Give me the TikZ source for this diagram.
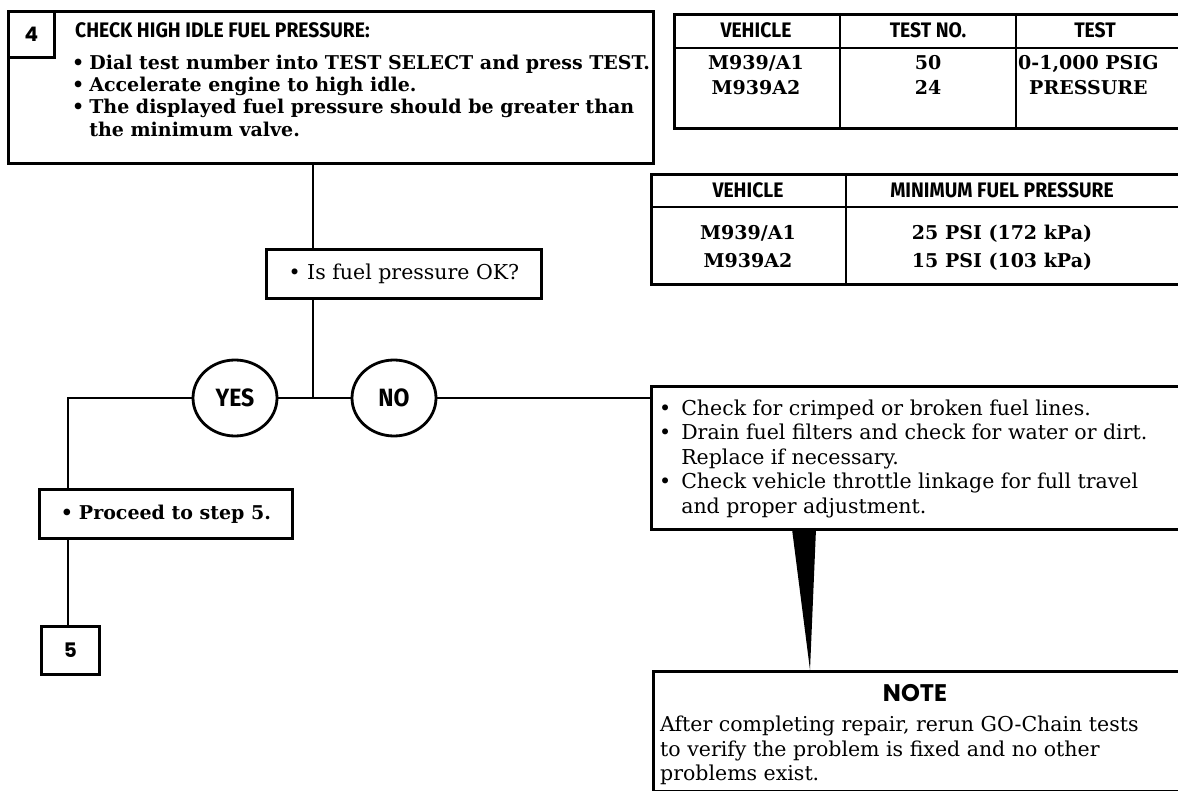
\documentclass[tikz,border=0pt]{standalone}
\usepackage{fontspec}
\setmainfont{DejaVu Serif}
\newfontfamily\hdrfont[FakeStretch=0.92]{Fira Sans}
\newfontfamily\notefont{Poppins}
\usetikzlibrary{shapes.geometric}

\tikzset{
  box/.style={draw, line width=2.8pt, inner sep=0pt, anchor=north west},
  rule/.style={line width=2.8pt},
  conn/.style={line width=2.6pt},
  hdr/.style={font=\hdrfont\bfseries\fontsize{21}{24}\selectfont, inner sep=0pt},
  bodyb/.style={font=\bfseries\fontsize{19}{22}\selectfont, inner sep=0pt},
  bodyr/.style={font=\fontsize{20.5}{24}\selectfont, inner sep=0pt},
  ans/.style={draw, ellipse, line width=2.8pt, minimum width=84pt, minimum height=76pt, inner sep=0pt, fill=white, font=\hdrfont\bfseries\fontsize{25}{28}\selectfont},
  num/.style={box, minimum width=46pt, minimum height=46pt, font=\notefont\bfseries\fontsize{20}{22}\selectfont},
}

\begin{document}
\begin{tikzpicture}[x=1pt, y=-1pt, line join=miter]
\useasboundingbox (0,0) rectangle (1178,791);
\clip (0,0) rectangle (1178,791);

% ---------- step 4 box ----------
\node[box, minimum width=645pt, minimum height=152pt] (main) at (7,10) {};
\node[num] (four) at (7,10) {4};
\node[hdr, anchor=base west] (title) at (75,38) {CHECK HIGH IDLE FUEL PRESSURE:};
\node[bodyb, anchor=base west] (m1) at (72,70) {\textbullet\hspace{5pt}Dial test number into TEST SELECT and press TEST.};
\node[bodyb, anchor=base west] (m2) at (72,92) {\textbullet\hspace{5pt}Accelerate engine to high idle.};
\node[bodyb, anchor=base west] (m3) at (72,114) {\textbullet\hspace{5pt}The displayed fuel pressure should be greater than};
\node[bodyb, anchor=base west] (m4) at (72,137) {\phantom{\textbullet}\hspace{5pt}the minimum valve.};

% ---------- table 1 ----------
\node[box, minimum width=509pt, minimum height=114pt] (tab1) at (673,13) {};
\draw[rule] (tab1.north west |- 0,48) -- (tab1.north east |- 0,48);
\draw[rule] (840,13) -- (840,127);
\draw[rule] (1016,13) -- (1016,127);
\node[hdr, anchor=base] (t1h1) at (756,38) {VEHICLE};
\node[hdr, anchor=base] (t1h2) at (928,38) {TEST NO.};
\node[hdr, anchor=base] (t1h3) at (1095,38) {TEST};
\node[bodyb, anchor=base] (t1a) at (756,70) {M939/A1};
\node[bodyb, anchor=base] (t1b) at (756,95) {M939A2};
\node[bodyb, anchor=base] (t1c) at (928,70) {50};
\node[bodyb, anchor=base] (t1d) at (928,95) {24};
\node[bodyb, anchor=base west] (t1e) at (1018,70) {0-1,000 PSIG};
\node[bodyb, anchor=base west] (t1f) at (1029,95) {PRESSURE};

% ---------- table 2 ----------
\node[box, minimum width=532pt, minimum height=110pt] (tab2) at (650,173) {};
\draw[rule] (tab2.north west |- 0,207) -- (tab2.north east |- 0,207);
\draw[rule] (846,173) -- (846,283);
\node[hdr, anchor=base] (t2h1) at (748,198) {VEHICLE};
\node[hdr, anchor=base] (t2h2) at (1002,198) {MINIMUM FUEL PRESSURE};
\node[bodyb, anchor=base] (t2a) at (748,240) {M939/A1};
\node[bodyb, anchor=base] (t2b) at (748,268) {M939A2};
\node[bodyb, anchor=base] (t2c) at (1002,240) {25 PSI (172 kPa)};
\node[bodyb, anchor=base] (t2d) at (1002,268) {15 PSI (103 kPa)};

% ---------- question ----------
\node[box, bodyr, minimum width=275pt, minimum height=49pt] (isok) at (265,248) {\textbullet\ Is fuel pressure OK?};

\coordinate (J) at (313,398);
\coordinate (L) at (68,398);

\node[ans] (yes) at (235,398) {YES};
\node[ans] (no) at (394,398) {NO};

% ---------- action box ----------
\node[box, minimum width=532pt, minimum height=143pt] (act) at (650,385) {};
\node[bodyr, anchor=base west] (a1) at (659,415) {\textbullet\hspace{10pt}Check for crimped or broken fuel lines.};
\node[bodyr, anchor=base west] (a2) at (659,439.5) {\textbullet\hspace{10pt}Drain fuel filters and check for water or dirt.};
\node[bodyr, anchor=base west] (a3) at (659,464) {\phantom{\textbullet}\hspace{10pt}Replace if necessary.};
\node[bodyr, anchor=base west] (a4) at (659,488.5) {\textbullet\hspace{10pt}Check vehicle throttle linkage for full travel};
\node[bodyr, anchor=base west] (a5) at (659,513) {\phantom{\textbullet}\hspace{10pt}and proper adjustment.};

% ---------- proceed / step 5 ----------
\node[box, bodyb, minimum width=253pt, minimum height=49pt] (pro) at (38,488) {\textbullet\hspace{6pt}Proceed to step 5.};
\node[num, minimum width=58pt, minimum height=48pt] (five) at (40,625) {5};

% ---------- note ----------
\node[box, minimum width=530pt, minimum height=120pt] (note) at (652,670) {};
\node[font=\notefont\bfseries\fontsize{24}{26}\selectfont, inner sep=0pt, anchor=base] (notet) at (915,701) {NOTE};
\node[bodyr, anchor=base west] (n1) at (660,731) {After completing repair, rerun GO-Chain tests};
\node[bodyr, anchor=base west] (n2) at (660,756) {to verify the problem is fixed and no other};
\node[bodyr, anchor=base west] (n3) at (660,780) {problems exist.};

% ---------- connectors ----------
\draw[conn] (main.south -| J) -- (isok.north -| J);
\draw[conn] (isok.south -| J) -- (J);
\draw[conn] (J) -- (yes.east);
\draw[conn] (J) -- (no.west);
\draw[conn] (no.east) -- (no.east -| act.west);
\draw[conn] (yes.west) -- (L) -- (L |- pro.north);
\draw[conn] (pro.south -| L) -- (L |- five.north);

\coordinate (tA) at (792,529);
\coordinate (tB) at (816,529);
\coordinate (tC) at (810,670);
\fill (tA) -- (tB) -- (tC) -- cycle;
\end{tikzpicture}
\end{document}
